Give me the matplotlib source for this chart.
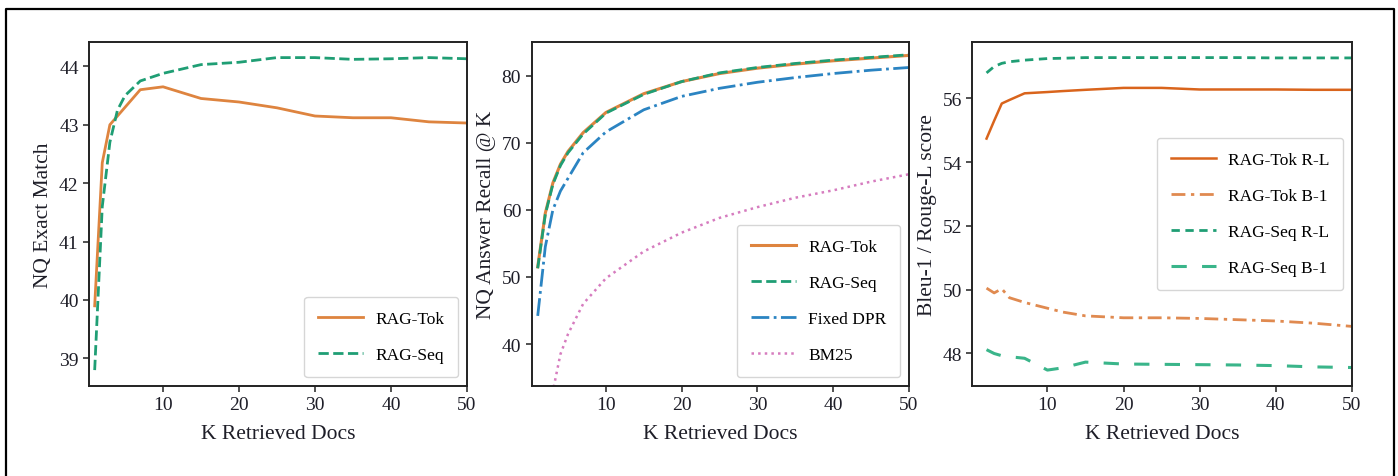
import matplotlib
matplotlib.use("Agg")
import matplotlib.pyplot as plt
from matplotlib.lines import Line2D

plt.rcParams['font.family'] = ['Liberation Serif', 'DejaVu Serif']

# ---- Panel 1: NQ Exact Match ----
k1 = [1, 2, 3, 5, 7, 10, 15, 20, 25, 30, 35, 40, 45, 50]
em_tok = [39.9, 42.35, 43.0, 43.3, 43.6, 43.65, 43.45, 43.39, 43.29, 43.15, 43.12, 43.12, 43.05, 43.03]
k1s = [1, 2, 3, 4, 5, 7, 10, 15, 20, 25, 30, 35, 40, 45, 50]
em_seq = [38.8, 41.6, 42.7, 43.25, 43.5, 43.75, 43.88, 44.03, 44.07, 44.15, 44.15, 44.12, 44.13, 44.15, 44.13]

# ---- Panel 2: NQ Answer Recall @ K ----
k2 = [1, 2, 3, 4, 5, 7, 10, 15, 20, 25, 30, 35, 40, 45, 50]
rec_tok = [51.5, 59.5, 64.0, 66.8, 68.7, 71.5, 74.5, 77.3, 79.1, 80.3, 81.1, 81.7, 82.2, 82.6, 83.0]
rec_seq = [51.3, 59.3, 63.8, 66.6, 68.5, 71.3, 74.4, 77.2, 79.1, 80.4, 81.2, 81.8, 82.3, 82.7, 83.1]
rec_dpr = [44.2, 54.5, 60.0, 62.8, 64.7, 68.5, 71.6, 74.9, 76.9, 78.1, 79.0, 79.7, 80.3, 80.8, 81.2]
rec_bm25 = [22.0, 29.0, 33.0, 38.5, 41.5, 46.0, 49.8, 53.8, 56.6, 58.8, 60.4, 61.8, 62.9, 64.2, 65.3]

# ---- Panel 3: Bleu-1 / Rouge-L ----
k3 = [2, 3, 4, 5, 7, 10, 12, 15, 20, 25, 30, 35, 40, 45, 50]
tok_rl = [54.74, 55.3, 55.84, 55.95, 56.16, 56.2, 56.23, 56.27, 56.33, 56.33, 56.28, 56.28, 56.28, 56.27, 56.27]
tok_b1 = [50.05, 49.9, 50.03, 49.75, 49.6, 49.42, 49.3, 49.18, 49.12, 49.12, 49.1, 49.06, 49.02, 48.95, 48.85]
seq_rl = [56.8, 57.0, 57.1, 57.15, 57.2, 57.25, 57.26, 57.28, 57.28, 57.28, 57.28, 57.28, 57.27, 57.27, 57.27]
seq_b1 = [48.12, 48.0, 47.93, 47.9, 47.85, 47.48, 47.55, 47.73, 47.67, 47.66, 47.65, 47.64, 47.62, 47.58, 47.56]

xticks = [10, 20, 30, 40, 50]

ORANGE = '#de843f'
ORANGE_D = '#d9641c'
ORANGE_L = '#e08a50'
GREEN = '#1f9e74'
GREEN_L = '#3ab58a'
BLUE = '#2b84c2'
PINK = '#d67cbf'
TXT = '#1e1e28'

fig = plt.figure(figsize=(13.98, 4.77), dpi=100)

# outer frame (left, top, right)
fig.add_artist(Line2D([0.0045, 0.0045, 0.997, 0.997], [0.0, 0.979, 0.979, 0.0],
                      transform=fig.transFigure, color='black', lw=1.6))

bottom, height = 0.1893, 0.9099 - 0.1893
axs = [fig.add_axes([0.0637, bottom, 0.334 - 0.0637, height]),
       fig.add_axes([0.3803, bottom, 0.6502 - 0.3803, height]),
       fig.add_axes([0.6955, bottom, 0.967 - 0.6955, height])]

leg_kw = dict(fontsize=12.5, handlelength=2.6, borderpad=0.8, labelspacing=1.15,
              frameon=True, fancybox=True, handletextpad=0.7)

for ax in axs:
    for s in ax.spines.values():
        s.set_color('#222222')
        s.set_linewidth(1.4)
    ax.tick_params(labelsize=14, length=4, width=1.1, colors='#222222', labelcolor=TXT)
    ax.set_xticks(xticks)
    ax.set_xlabel('K Retrieved Docs', fontsize=15.5, labelpad=8, color=TXT)

ax = axs[0]
ax.plot(k1, em_tok, color=ORANGE, lw=2.0, label='RAG-Tok')
ax.plot(k1s, em_seq, color=GREEN, lw=2.0, ls='--', label='RAG-Seq')
ax.set_xlim(0.26, 50)
ax.set_ylabel('NQ Exact Match', fontsize=15.5, color=TXT)
ax.set_yticks([39, 40, 41, 42, 43, 44])
ax.legend(loc='lower right', **leg_kw)

ax = axs[1]
ax.plot(k2, rec_tok, color=ORANGE, lw=2.2, label='RAG-Tok')
ax.plot(k2, rec_seq, color=GREEN, lw=2.0, ls='--', label='RAG-Seq')
ax.plot(k2, rec_dpr, color=BLUE, lw=2.0, ls='-.', label='Fixed DPR')
ax.plot(k2, rec_bm25, color=PINK, lw=1.8, ls=':', label='BM25')
ax.set_xlim(0.2, 50)
ax.set_ylim(33.8, 85.0)
ax.set_yticks([40, 50, 60, 70, 80])
ax.set_ylabel('NQ Answer Recall @ K', fontsize=15.5, color=TXT)
ax.legend(loc='lower right', **leg_kw)

ax = axs[2]
ax.plot(k3, tok_rl, color=ORANGE_D, lw=1.8, label='RAG-Tok R-L')
ax.plot(k3, tok_b1, color=ORANGE_L, lw=2.0, ls=(0, (5, 2, 1.2, 2)), label='RAG-Tok B-1')
ax.plot(k3, seq_rl, color=GREEN, lw=2.0, ls=(0, (3, 2)), label='RAG-Seq R-L')
ax.plot(k3, seq_b1, color=GREEN_L, lw=2.2, ls=(0, (5, 5)), label='RAG-Seq B-1')
ax.set_xlim(0.13, 50)
ax.set_yticks([48, 50, 52, 54, 56])
ax.set_ylabel('Bleu-1 / Rouge-L score', fontsize=15.5, color=TXT)
ax.legend(loc='center right', **leg_kw)

fig.savefig('out.png', dpi=100)
